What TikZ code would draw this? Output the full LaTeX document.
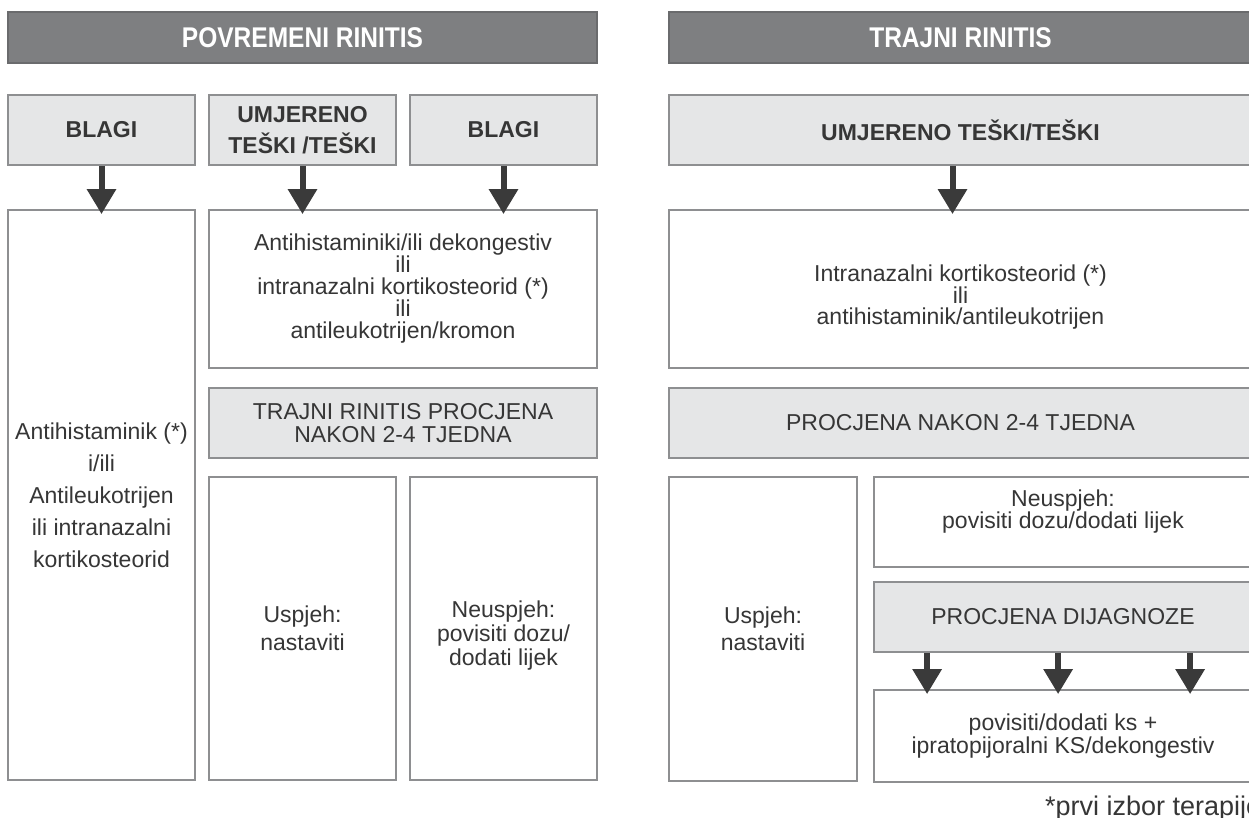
\documentclass[tikz,border=0pt]{standalone}
\usepackage{fontspec}
\setmainfont{Liberation Sans}
\newfontfamily\hdrfont[FakeStretch=0.86]{Liberation Sans}
\usetikzlibrary{arrows.meta}
\definecolor{hdrfill}{HTML}{7E7F81}
\definecolor{hdrline}{HTML}{6A6B6D}
\definecolor{boxfill}{HTML}{E5E6E7}
\definecolor{boxline}{HTML}{8E8F91}
\definecolor{txt}{HTML}{363636}
\definecolor{arrowc}{HTML}{3A3A3A}
\tikzset{
  hdr/.style={draw=hdrline, fill=hdrfill, line width=1.6pt, text=white, inner sep=0pt,
    font=\hdrfont\bfseries\fontsize{28.5}{30}\selectfont},
  gbox/.style={draw=boxline, fill=boxfill, line width=1.8pt, text=txt, align=center, inner sep=0pt},
  wbox/.style={draw=boxline, fill=white, line width=1.8pt, text=txt, align=center, inner sep=0pt},
  lbl/.style={font=\bfseries\fontsize{23}{31}\selectfont},
  reg/.style={font=\fontsize{23}{#1}\selectfont},
  reg/.default=22,
  txtnode/.style={text=txt, align=center, inner sep=0pt},
  arr/.style={draw=arrowc, line width=6pt, -{Triangle[width=28pt,length=25pt]}, shorten >=-5pt}
}
\begin{document}
\begin{tikzpicture}[x=1pt,y=-1pt]
\clip (0,0) rectangle (1249,818);
\fill[white] (0,0) rectangle (1249,818);
% headers
\node[hdr, minimum width=589pt, minimum height=51pt] (h1) at (302.5,37.5) {POVREMENI RINITIS};
\node[hdr, minimum width=583pt, minimum height=51pt] (h2) at (960.5,37.5) {TRAJNI RINITIS};
% severity row
\node[gbox, lbl, minimum width=187pt, minimum height=70pt] (blagiA) at (101.5,130) {BLAGI};
\node[gbox, lbl, minimum width=187pt, minimum height=70pt] (umjA) at (302.5,130) {UMJERENO\\TEŠKI /TEŠKI};
\node[gbox, lbl, minimum width=187pt, minimum height=70pt] (blagiB) at (503.5,130) {BLAGI};
\node[gbox, lbl, minimum width=583pt, minimum height=70pt] (umjR) at (960.5,130) {UMJERENO TEŠKI/TEŠKI};
% treatment row
\node[wbox, reg=32, minimum width=187pt, minimum height=570pt] (tall) at (101.5,495)
  {Antihistaminik (*)\\i/ili\\Antileukotrijen\\ili intranazalni\\kortikosteorid};
\node[wbox, reg=22, minimum width=388pt, minimum height=158pt] (mid) at (403,289)
  {Antihistaminiki/ili dekongestiv\\ili\\intranazalni kortikosteorid (*)\\ili\\antileukotrijen/kromon};
\node[wbox, minimum width=583pt, minimum height=158pt] (bigR) at (960.5,289) {};
\node[txtnode, reg=21] (bigRt) at ([yshift=-8pt]bigR.center)
  {Intranazalni kortikosteorid (*)\\ili\\antihistaminik/antileukotrijen};
% assessment row
\node[gbox, reg=23, minimum width=388pt, minimum height=70pt] (procL) at (403,423)
  {TRAJNI RINITIS PROCJENA\\NAKON 2-4 TJEDNA};
\node[gbox, reg, minimum width=583pt, minimum height=70pt] (procR) at (960.5,423)
  {PROCJENA NAKON 2-4 TJEDNA};
% outcome row
\node[wbox, reg=28, minimum width=187pt, minimum height=303pt] (uspL) at (302.5,628.5)
  {Uspjeh:\\nastaviti};
\node[wbox, minimum width=187pt, minimum height=303pt] (neuL) at (503.5,628.5) {};
\node[txtnode, reg=24] (neuLt) at ([yshift=-7pt]neuL.center)
  {Neuspjeh:\\povisiti dozu/\\dodati lijek};
\node[wbox, reg=27, minimum width=188pt, minimum height=304pt] (uspR) at (763,629)
  {Uspjeh:\\nastaviti};
\node[wbox, minimum width=378pt, minimum height=90pt] (neuR) at (1063,522) {};
\node[txtnode, reg=22] (neuRt) at ([yshift=10pt]neuR.center)
  {Neuspjeh:\\povisiti dozu/dodati lijek};
\node[gbox, reg, minimum width=378pt, minimum height=70pt] (dij) at (1063,617)
  {PROCJENA DIJAGNOZE};
\node[wbox, reg=23, minimum width=378pt, minimum height=92pt] (pov) at (1063,736)
  {povisiti/dodati ks +\\ipratopijoralni KS/dekongestiv};
% arrows
\draw[arr] (blagiA.south) -- (blagiA.south |- tall.north);
\draw[arr] (umjA.south) -- (umjA.south |- mid.north);
\draw[arr] (blagiB.south) -- (blagiB.south |- mid.north);
\draw[arr] ([xshift=-8pt]umjR.south) -- ([xshift=-8pt]umjR.south |- bigR.north);
\draw[arr] ([xshift=54pt]dij.south west) -- ([xshift=54pt]dij.south west |- pov.north);
\draw[arr] ([xshift=185pt]dij.south west) -- ([xshift=185pt]dij.south west |- pov.north);
\draw[arr] ([xshift=317pt]dij.south west) -- ([xshift=317pt]dij.south west |- pov.north);
% footnote
\node[anchor=base west, text=txt, font=\fontsize{27}{30}\selectfont, inner sep=0pt] (fn) at (1045,815) {*prvi izbor terapije};
\end{tikzpicture}
\end{document}
